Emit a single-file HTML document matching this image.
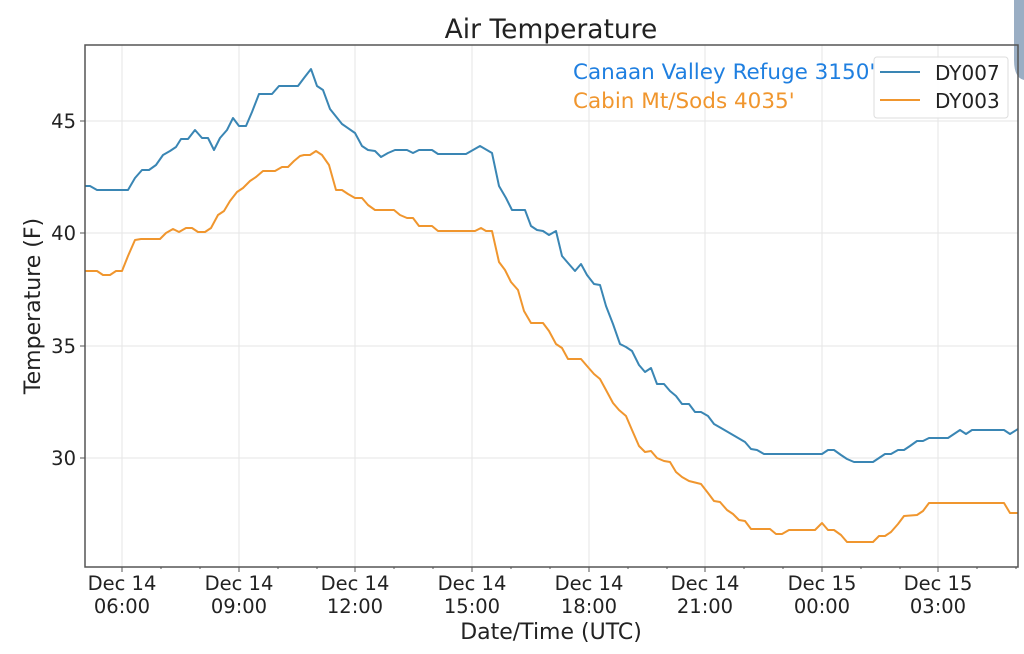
<!DOCTYPE html>
<html><head><meta charset="utf-8"><style>body{margin:0;background:#fff}svg{display:block}</style></head><body>
<svg width="1024" height="654" viewBox="0 0 1024 654" xmlns="http://www.w3.org/2000/svg" font-family="DejaVu Sans, Liberation Sans, sans-serif">
<rect width="1024" height="654" fill="#fff"/>
<path d="M1014,0 H1024 V80 Q1014,78 1014,60 Z" fill="#9aaec4"/>
<g stroke="#e6e6e6" stroke-width="1">
<line x1="85" y1="121" x2="1018" y2="121"/><line x1="85" y1="233" x2="1018" y2="233"/><line x1="85" y1="346" x2="1018" y2="346"/><line x1="85" y1="458" x2="1018" y2="458"/>
<line x1="122" y1="45" x2="122" y2="567"/><line x1="239" y1="45" x2="239" y2="567"/><line x1="355" y1="45" x2="355" y2="567"/><line x1="472" y1="45" x2="472" y2="567"/><line x1="589" y1="45" x2="589" y2="567"/><line x1="705" y1="45" x2="705" y2="567"/><line x1="822" y1="45" x2="822" y2="567"/><line x1="938" y1="45" x2="938" y2="567"/>
</g>
<polyline fill="none" stroke="#3a86b4" stroke-width="2" stroke-linejoin="round" points="85,186 90,186 97,190 128,190 135,178 142,170 149,170 156,165 163,155 170,151 176,147 181,139 188,139 195,130 202,138 208,138 214,150 220,138 227,130 233,118 239,126 246,126 252,112 259,94 272,94 279,86 298,86 304,78 311,69 317,86 323,90 330,109 342,124 355,133 362,146 368,150 375,151 381,157 388,153 395,150 407,150 413,153 419,150 432,150 438,154 466,154 480,146 492,153 499,186 506,198 512,210 525,210 531,226 537,230 543,231 549,235 556,231 562,256 568,263 575,271 581,264 587,275 594,284 600,285 606,306 613,324 620,344 626,347 632,351 639,365 645,372 651,368 657,384 664,384 670,391 676,396 682,404 689,404 695,412 701,412 708,416 714,424 721,428 733,435 745,442 751,449 757,450 764,454 822,454 828,450 834,450 841,455 847,459 854,462 873,462 879,458 885,454 891,454 898,450 904,450 910,446 917,441 923,441 929,438 948,438 954,434 960,430 966,434 972,430 1004,430 1010,434 1018,429"/>
<polyline fill="none" stroke="#f0962e" stroke-width="2" stroke-linejoin="round" points="85,271 97,271 103,275 110,275 116,271 122,271 128,256 135,240 141,239 160,239 166,233 173,229 179,232 186,228 192,228 198,232 205,232 211,228 218,215 224,211 230,201 237,192 243,188 250,181 256,177 263,171 275,171 282,167 288,167 294,161 300,156 304,155 310,155 316,151 322,155 329,165 336,190 342,190 348,194 355,198 362,198 368,205 375,210 394,210 400,215 407,218 413,218 419,226 432,226 438,231 475,231 481,228 486,231 492,231 499,262 505,270 511,282 518,290 524,311 531,323 543,323 549,331 556,344 562,348 568,359 581,359 587,366 594,374 600,379 606,390 613,403 619,410 626,416 632,430 639,446 645,452 651,451 657,458 664,461 670,462 676,472 682,477 689,481 701,484 708,493 714,501 720,502 727,510 733,514 739,520 745,521 751,529 770,529 776,534 782,534 789,530 815,530 822,523 828,530 834,530 841,535 847,542 873,542 879,536 885,536 891,532 898,524 904,516 917,515 923,511 929,503 1004,503 1010,513 1018,513"/>
<rect x="85" y="45" width="933" height="522" fill="none" stroke="#555" stroke-width="1.5"/>
<g stroke="#555" stroke-width="1">
<line x1="122" y1="567" x2="122" y2="572"/><line x1="239" y1="567" x2="239" y2="572"/><line x1="355" y1="567" x2="355" y2="572"/><line x1="472" y1="567" x2="472" y2="572"/><line x1="589" y1="567" x2="589" y2="572"/><line x1="705" y1="567" x2="705" y2="572"/><line x1="822" y1="567" x2="822" y2="572"/><line x1="938" y1="567" x2="938" y2="572"/>
<line x1="80" y1="121" x2="85" y2="121"/><line x1="80" y1="233" x2="85" y2="233"/><line x1="80" y1="346" x2="85" y2="346"/><line x1="80" y1="458" x2="85" y2="458"/>
<line x1="161" y1="567" x2="161" y2="569"/><line x1="200" y1="567" x2="200" y2="569"/><line x1="278" y1="567" x2="278" y2="569"/><line x1="317" y1="567" x2="317" y2="569"/><line x1="394" y1="567" x2="394" y2="569"/><line x1="433" y1="567" x2="433" y2="569"/><line x1="511" y1="567" x2="511" y2="569"/><line x1="550" y1="567" x2="550" y2="569"/><line x1="628" y1="567" x2="628" y2="569"/><line x1="667" y1="567" x2="667" y2="569"/><line x1="744" y1="567" x2="744" y2="569"/><line x1="783" y1="567" x2="783" y2="569"/><line x1="861" y1="567" x2="861" y2="569"/><line x1="900" y1="567" x2="900" y2="569"/><line x1="977" y1="567" x2="977" y2="569"/><line x1="1016" y1="567" x2="1016" y2="569"/>
</g>
<g font-size="19.5" fill="#222" text-anchor="end">
<text x="76" y="128">45</text><text x="76" y="240">40</text><text x="76" y="353">35</text><text x="76" y="465">30</text>
</g>
<g font-size="19.5" fill="#222" text-anchor="middle">
<text x="122" y="590">Dec 14</text><text x="122" y="613">06:00</text>
<text x="239" y="590">Dec 14</text><text x="239" y="613">09:00</text>
<text x="355" y="590">Dec 14</text><text x="355" y="613">12:00</text>
<text x="472" y="590">Dec 14</text><text x="472" y="613">15:00</text>
<text x="589" y="590">Dec 14</text><text x="589" y="613">18:00</text>
<text x="705" y="590">Dec 14</text><text x="705" y="613">21:00</text>
<text x="822" y="590">Dec 15</text><text x="822" y="613">00:00</text>
<text x="938" y="590">Dec 15</text><text x="938" y="613">03:00</text>
<text x="551" y="639" font-size="22">Date/Time (UTC)</text>
<text x="551" y="38" font-size="26.5">Air Temperature</text>
</g>
<text transform="translate(40,306) rotate(-90)" font-size="22" fill="#222" text-anchor="middle">Temperature (F)</text>
<text x="573" y="79" font-size="21.5" fill="#1f7fe0">Canaan Valley Refuge 3150'</text>
<text x="573" y="108" font-size="21.5" fill="#f0962e">Cabin Mt/Sods 4035'</text>
<rect x="874" y="57" width="134" height="61" rx="3" fill="#fff" fill-opacity="0.85" stroke="#ddd"/>
<line x1="880" y1="72" x2="920" y2="72" stroke="#3a86b4" stroke-width="2"/>
<line x1="880" y1="100" x2="920" y2="100" stroke="#f0962e" stroke-width="2"/>
<text x="935" y="80" font-size="20" fill="#222">DY007</text>
<text x="935" y="108" font-size="20" fill="#222">DY003</text>
</svg>
</body></html>
